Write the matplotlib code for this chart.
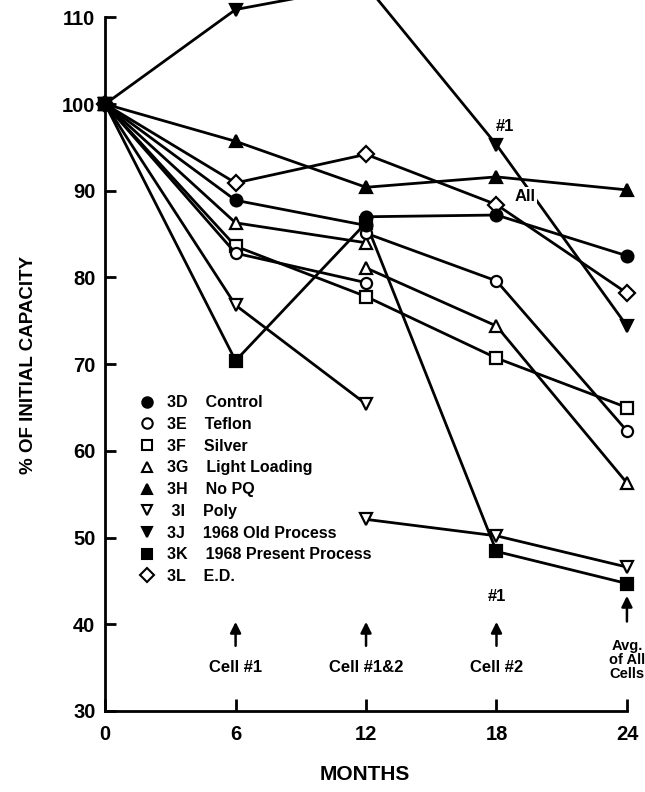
import matplotlib
matplotlib.use("Agg")
import matplotlib.pyplot as plt
from matplotlib.lines import Line2D

plt.rcParams['font.family'] = ['Liberation Sans', 'DejaVu Sans']
plt.rcParams['font.weight'] = 'bold'
plt.rcParams['axes.labelweight'] = 'bold'

# months at which cells were checked
months = [0, 6, 12, 18, 24]
months_cell1 = [0, 6, 12]
months_cell2 = [12, 18, 24]

# % of initial capacity
d3D_cell1 = [100, 88.9, 86.0]
d3D_cell2 = [87.0, 87.2, 82.5]
d3E_cell1 = [100, 82.8, 79.4]
d3E_cell2 = [85.1, 79.6, 62.3]
d3F = [100, 83.6, 77.8, 70.7, 65.0]
d3G_cell1 = [100, 86.3, 84.0]
d3G_cell2 = [81.1, 74.4, 56.3]
d3H = [100, 95.7, 90.4, 91.6, 90.1]
d3I_cell1 = [100, 76.8, 65.4]
d3I_cell2 = [52.1, 50.2, 46.6]
d3J = [100, 110.9, 113.7, 95.3, 74.4]
d3K = [100, 70.4, 86.3, 48.4, 44.7]
d3L = [100, 90.9, 94.2, 88.4, 78.2]

codes = ['3D', '3E', '3F', '3G', '3H', '3I', '3J', '3K', '3L']
names = ['Control', 'Teflon', 'Silver', 'Light Loading', 'No PQ', 'Poly',
         '1968 Old Process', '1968 Present Process', 'E.D.']

cell_notes = ['Cell #1', 'Cell #1&2', 'Cell #2']
note_months = [6, 12, 18]

fig = plt.figure(figsize=(6.45, 7.92), dpi=100)
ax = fig.add_axes([0.163, 0.1023, 0.809, 0.8977])

# marker, face colour, size
styles = {
    '3D': ('o', 'black', 8.5),
    '3E': ('o', 'white', 8),
    '3F': ('s', 'white', 8.5),
    '3G': ('^', 'white', 8.5),
    '3H': ('^', 'black', 8.5),
    '3I': ('v', 'white', 8.5),
    '3J': ('v', 'black', 8.5),
    '3K': ('s', 'black', 9),
    '3L': ('D', 'white', 8.5),
}

def draw(x, y, code):
    m, fc, ms = styles[code]
    ax.plot(x, y, color='black', lw=2.0, marker=m, markersize=ms,
            markerfacecolor=fc, markeredgecolor='black', markeredgewidth=1.6,
            clip_on=False, zorder=3)

draw(months, d3J, '3J')
draw(months, d3K, '3K')
draw(months_cell1, d3I_cell1, '3I')
draw(months_cell2, d3I_cell2, '3I')
draw(months, d3F, '3F')
draw(months_cell1, d3G_cell1, '3G')
draw(months_cell2, d3G_cell2, '3G')
draw(months_cell1, d3E_cell1, '3E')
draw(months_cell2, d3E_cell2, '3E')
draw(months, d3L, '3L')
draw(months, d3H, '3H')
draw(months_cell1, d3D_cell1, '3D')
draw(months_cell2, d3D_cell2, '3D')

ax.set_xlim(0, 24)
ax.set_ylim(30, 112)
ax.spines['top'].set_visible(False)
ax.spines['right'].set_visible(False)
ax.spines['left'].set_bounds(30, 110)
for s in ['left', 'bottom']:
    ax.spines[s].set_linewidth(2.0)

ax.set_yticks(range(30, 111, 10))
ax.set_xticks(months)
ax.tick_params(axis='both', direction='in', width=2.0, labelsize=14.5)
ax.tick_params(axis='y', length=8, pad=7)
ax.tick_params(axis='x', length=9, pad=10)

ax.set_ylabel('% OF INITIAL CAPACITY', fontsize=13.5)
ax.yaxis.set_label_coords(-0.131, 0.487)
ax.set_xlabel('MONTHS', fontsize=15)
ax.xaxis.set_label_coords(0.498, -0.076)

# notes
ax.text(18.4, 97.4, '#1', fontsize=12, ha='center', va='center')
ax.text(18.0, 43.2, '#1', fontsize=12, ha='center', va='center')
ax.text(19.3, 89.3, 'All', fontsize=12, ha='center', va='center',
        bbox=dict(facecolor='white', edgecolor='none', pad=1.5), zorder=4)

arrow = dict(arrowstyle='-|>', color='black', lw=1.8, mutation_scale=16)
for m, note in zip(note_months, cell_notes):
    ax.annotate('', xy=(m, 40.6), xytext=(m, 37.2), arrowprops=arrow)
    ax.text(m, 35.0, note, fontsize=12, ha='center', va='center')
ax.annotate('', xy=(24, 43.6), xytext=(24, 40.0), arrowprops=arrow,
            annotation_clip=False)
ax.text(24, 35.9, 'Avg.\nof All\nCells', fontsize=10.5, ha='center',
        va='center', linespacing=1.0)

# legend
handles = []
labels = []
for c, n in zip(codes, names):
    m, fc, ms = styles[c]
    handles.append(Line2D([], [], ls='none', marker=m, markersize=7.5,
                          markerfacecolor=fc, markeredgecolor='black',
                          markeredgewidth=1.5))
    code = ' ' + c if c == '3I' else c
    labels.append(code + '    ' + n)
ax.legend(handles, labels, loc='upper left', bbox_to_anchor=(0.053, 0.453),
          frameon=False, fontsize=11.5, handlelength=1.0, handletextpad=0.75,
          labelspacing=0.42, borderaxespad=0)

fig.savefig('out.png', dpi=100)
